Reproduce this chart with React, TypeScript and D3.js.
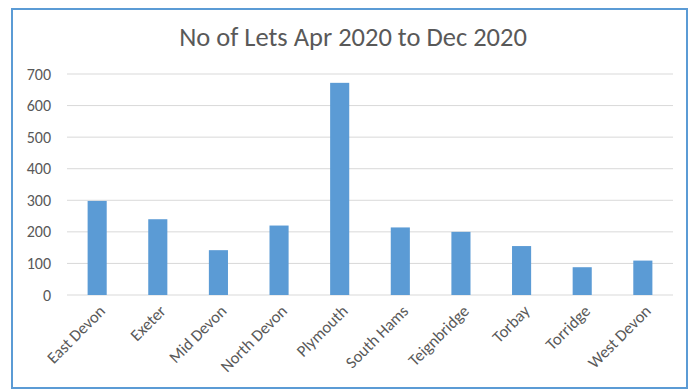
import React from "react";
import * as d3 from "d3";

const categories = ["East Devon", "Exeter", "Mid Devon", "North Devon", "Plymouth", "South Hams", "Teignbridge", "Torbay", "Torridge", "West Devon"];
const lets = [298, 240, 142, 220, 672, 214, 200, 155, 88, 109];
const yTicks = [0, 100, 200, 300, 400, 500, 600, 700];
const title = "No of Lets Apr 2020 to Dec 2020";

const W = 690;
const H = 390;
const plot = { left: 67, right: 673, top: 74, bottom: 295 };

export default function App() {
  const x = d3.scaleBand<string>().domain(categories).range([plot.left, plot.right]).paddingInner(0.685).paddingOuter(0.34);
  const y = d3.scaleLinear().domain([0, 700]).range([plot.bottom, plot.top]);
  const font = "Calibri, Carlito, 'Open Sans', sans-serif";
  return (
    <svg width={W} height={H} style={{ position: "absolute", left: 0, top: 0, background: "#fff" }}>
      <rect x={0} y={0} width={W} height={H} fill="#fff" />
      <rect x={12} y={9} width={675} height={379} fill="#fff" stroke="#5B9BD5" strokeWidth={2} />
      <text x={353} y={46} textAnchor="middle" fontFamily={font} fontSize={26.5} fill="#595959">{title}</text>
      {yTicks.map((t) => (
        <g key={t}>
          <line x1={plot.left} x2={plot.right} y1={y(t)} y2={y(t)} stroke="#D9D9D9" strokeWidth={1} />
          <text x={51} y={y(t)} dy="0.35em" textAnchor="end" fontFamily={font} fontSize={16} fill="#595959">{t}</text>
        </g>
      ))}
      {categories.map((c, i) => (
        <rect key={c} x={x(c)} y={y(lets[i])} width={x.bandwidth()} height={y(0) - y(lets[i])} fill="#5B9BD5" />
      ))}
      {categories.map((c) => {
        const cx = (x(c) as number) + x.bandwidth() / 2;
        return (
          <text key={c} transform={`translate(${cx + 5},${plot.bottom + 13}) rotate(-45)`} textAnchor="end" dy="0.35em" fontFamily={font} fontSize={16.5} fill="#595959">{c}</text>
        );
      })}
    </svg>
  );
}
